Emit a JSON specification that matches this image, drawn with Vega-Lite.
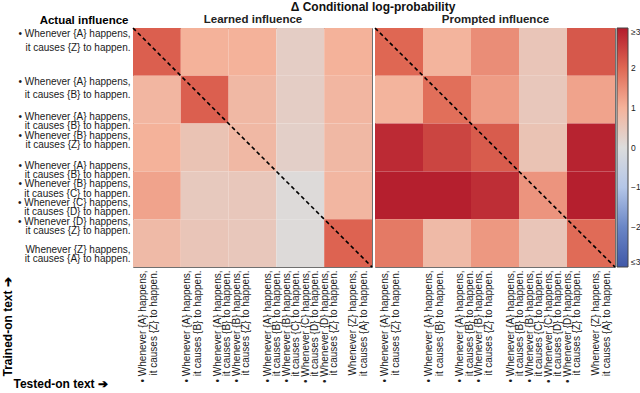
{
  "$schema": "https://vega.github.io/schema/vega-lite/v6.json",
  "padding": {"left": 0, "top": 0, "right": 0, "bottom": 0},
  "background": "white",
  "bounds": "flush",
  "title": {"text": "Δ Conditional log-probability", "fontSize": 12, "fontWeight": "bold", "anchor": "middle", "offset": -1, "color": "#111", "frame": "group", "dx": 240},
  "datasets": {
    "labels": [
      {"k": 1, "t": "• Whenever {A} happens,|it causes {Z} to happen."},
      {"k": 2, "t": "• Whenever {A} happens,|it causes {B} to happen."},
      {"k": 3, "t": "• Whenever {A} happens,|it causes {B} to happen.|• Whenever {B} happens,|it causes {Z} to happen."},
      {"k": 4, "t": "• Whenever {A} happens,|it causes {B} to happen.|• Whenever {B} happens,|it causes {C} to happen.|• Whenever {C} happens,|it causes {D} to happen.|• Whenever {D} happens,|it causes {Z} to happen."},
      {"k": 5, "t": "Whenever {Z} happens,|it causes {A} to happen."}
    ],
    "cells": [
      {"panel": "Learned", "r": 1, "c": 1, "v": 2.1}, {"panel": "Learned", "r": 1, "c": 2, "v": 1.0}, {"panel": "Learned", "r": 1, "c": 3, "v": 1.0}, {"panel": "Learned", "r": 1, "c": 4, "v": 0.35}, {"panel": "Learned", "r": 1, "c": 5, "v": 1.0},
      {"panel": "Learned", "r": 2, "c": 1, "v": 0.9}, {"panel": "Learned", "r": 2, "c": 2, "v": 2.1}, {"panel": "Learned", "r": 2, "c": 3, "v": 0.85}, {"panel": "Learned", "r": 2, "c": 4, "v": 0.35}, {"panel": "Learned", "r": 2, "c": 5, "v": 0.9},
      {"panel": "Learned", "r": 3, "c": 1, "v": 1.0}, {"panel": "Learned", "r": 3, "c": 2, "v": 0.6}, {"panel": "Learned", "r": 3, "c": 3, "v": 0.85}, {"panel": "Learned", "r": 3, "c": 4, "v": 0.3}, {"panel": "Learned", "r": 3, "c": 5, "v": 0.85},
      {"panel": "Learned", "r": 4, "c": 1, "v": 1.2}, {"panel": "Learned", "r": 4, "c": 2, "v": 0.45}, {"panel": "Learned", "r": 4, "c": 3, "v": 0.5}, {"panel": "Learned", "r": 4, "c": 4, "v": 0.05}, {"panel": "Learned", "r": 4, "c": 5, "v": 0.9},
      {"panel": "Learned", "r": 5, "c": 1, "v": 0.8}, {"panel": "Learned", "r": 5, "c": 2, "v": 0.55}, {"panel": "Learned", "r": 5, "c": 3, "v": 0.5}, {"panel": "Learned", "r": 5, "c": 4, "v": 0.05}, {"panel": "Learned", "r": 5, "c": 5, "v": 2.05},
      {"panel": "Prompted", "r": 1, "c": 1, "v": 2.0}, {"panel": "Prompted", "r": 1, "c": 2, "v": 0.95}, {"panel": "Prompted", "r": 1, "c": 3, "v": 1.5}, {"panel": "Prompted", "r": 1, "c": 4, "v": 0.55}, {"panel": "Prompted", "r": 1, "c": 5, "v": 2.2},
      {"panel": "Prompted", "r": 2, "c": 1, "v": 0.95}, {"panel": "Prompted", "r": 2, "c": 2, "v": 1.9}, {"panel": "Prompted", "r": 2, "c": 3, "v": 1.3}, {"panel": "Prompted", "r": 2, "c": 4, "v": 0.5}, {"panel": "Prompted", "r": 2, "c": 5, "v": 1.2},
      {"panel": "Prompted", "r": 3, "c": 1, "v": 2.8}, {"panel": "Prompted", "r": 3, "c": 2, "v": 2.45}, {"panel": "Prompted", "r": 3, "c": 3, "v": 2.15}, {"panel": "Prompted", "r": 3, "c": 4, "v": 0.6}, {"panel": "Prompted", "r": 3, "c": 5, "v": 2.9},
      {"panel": "Prompted", "r": 4, "c": 1, "v": 2.95}, {"panel": "Prompted", "r": 4, "c": 2, "v": 2.95}, {"panel": "Prompted", "r": 4, "c": 3, "v": 2.75}, {"panel": "Prompted", "r": 4, "c": 4, "v": 1.4}, {"panel": "Prompted", "r": 4, "c": 5, "v": 2.95},
      {"panel": "Prompted", "r": 5, "c": 1, "v": 1.75}, {"panel": "Prompted", "r": 5, "c": 2, "v": 0.8}, {"panel": "Prompted", "r": 5, "c": 3, "v": 1.35}, {"panel": "Prompted", "r": 5, "c": 4, "v": 0.55}, {"panel": "Prompted", "r": 5, "c": 5, "v": 1.95}
    ],
    "diag": [{"t": 0}, {"t": 1}]
  },
  "hconcat": [
    {
      "width": 239,
      "height": 239,
      "layer": [
        {
          "data": {"name": "cells"},
          "transform": [
            {"filter": "datum.panel == 'Learned'"},
            {"lookup": "r", "from": {"data": {"name": "labels"}, "key": "k", "fields": ["t"]}, "as": ["trained"]},
            {"lookup": "c", "from": {"data": {"name": "labels"}, "key": "k", "fields": ["t"]}, "as": ["tested"]}
          ],
          "mark": {"type": "rect"},
          "encoding": {
            "x": {"field": "tested", "type": "nominal", "sort": {"field": "c", "op": "min"},
              "axis": {"orient": "bottom", "labelAngle": -90, "labelAlign": "right", "labelBaseline": "middle", "labelLineHeight": 11,
                "labelExpr": "(datum.index < 0.3 || datum.index > 0.9) ? split(datum.value, '|') : ''",
                "labelOffset": {"condition": [{"test": "datum.index < 0.1", "value": -14}, {"test": "datum.index < 0.3", "value": -18}], "value": 5},
                "title": "Tested-on text ➔", "titleAngle": 0, "titleAlign": "left", "titleBaseline": "middle", "titleX": -120, "titleY": 116, "titleFontSize": 12}},
            "y": {"field": "trained", "type": "nominal", "sort": {"field": "r", "op": "min"},
              "axis": {"orient": "left", "labelAlign": "right", "labelBaseline": "middle", "labelLineHeight": 13.3,
                "labelExpr": "datum.index < 0.3 ? split(datum.value, '|') : ''",
                "labelOffset": -17.5,
                "title": "Actual influence", "titleAngle": 0, "titleAlign": "right", "titleBaseline": "middle", "titleX": -5, "titleY": -8, "titleFontSize": 11.5}},
            "color": {"field": "v", "type": "quantitative",
              "scale": {"type": "linear", "domain": [-3, -2, -1, 0, 1, 2, 3], "range": ["#4058a8", "#6a86c6", "#b4c6e7", "#dcdcdc", "#f4b29a", "#df6753", "#b31b2c"], "clamp": true, "interpolate": "rgb"},
              "legend": null}
          }
        },
        {
          "data": {"name": "cells"},
          "transform": [
            {"filter": "datum.panel == 'Learned'"},
            {"lookup": "r", "from": {"data": {"name": "labels"}, "key": "k", "fields": ["t"]}, "as": ["trained"]},
            {"lookup": "c", "from": {"data": {"name": "labels"}, "key": "k", "fields": ["t"]}, "as": ["tested"]}
          ],
          "mark": {"type": "rect", "opacity": 0},
          "encoding": {
            "x": {"field": "tested", "type": "nominal", "sort": {"field": "c", "op": "min"},
              "axis": {"orient": "bottom", "labelAngle": -90, "labelAlign": "right", "labelBaseline": "middle", "labelLineHeight": 9.5,
                "labelExpr": "(datum.index > 0.3 && datum.index < 0.9) ? split(datum.value, '|') : ''",
                "labelOffset": {"condition": {"test": "datum.index < 0.6", "value": -35}, "value": -32.5},
                "title": null}},
            "y": {"field": "trained", "type": "nominal", "sort": {"field": "r", "op": "min"},
              "axis": {"orient": "left", "labelAlign": "right", "labelBaseline": "middle", "labelLineHeight": 9.3,
                "labelExpr": "datum.index > 0.3 ? split(datum.value, '|') : ''",
                "labelOffset": {"condition": [{"test": "datum.index < 0.6", "value": -30.5}, {"test": "datum.index < 0.9", "value": -29.5}], "value": 7},
                "title": "Trained-on text ➔", "titleAngle": 270, "titleAlign": "left", "titleBaseline": "middle", "titleX": -126, "titleY": 348, "titleFontSize": 12}}
          }
        },
        {
          "data": {"name": "diag"},
          "mark": {"type": "line", "color": "black", "strokeWidth": 1.6, "strokeDash": [4, 3]},
          "encoding": {
            "x": {"field": "t", "type": "quantitative", "scale": {"domain": [0, 1], "nice": false, "zero": false},
              "axis": {"orient": "top", "labels": false, "ticks": false, "domain": false, "grid": false, "title": "Learned influence", "titlePadding": 4, "titleFontSize": 11.5, "titleColor": "#222"}},
            "y": {"field": "t", "type": "quantitative", "scale": {"domain": [0, 1], "nice": false, "zero": false, "reverse": true}, "axis": null}
          }
        }
      ],
      "resolve": {"scale": {"x": "independent", "y": "independent"}}
    },
    {
      "width": 240,
      "height": 239,
      "layer": [
        {
          "data": {"name": "cells"},
          "transform": [
            {"filter": "datum.panel == 'Prompted'"},
            {"lookup": "r", "from": {"data": {"name": "labels"}, "key": "k", "fields": ["t"]}, "as": ["trained"]},
            {"lookup": "c", "from": {"data": {"name": "labels"}, "key": "k", "fields": ["t"]}, "as": ["tested"]}
          ],
          "mark": {"type": "rect"},
          "encoding": {
            "x": {"field": "tested", "type": "nominal", "sort": {"field": "c", "op": "min"},
              "axis": {"orient": "bottom", "labelAngle": -90, "labelAlign": "right", "labelBaseline": "middle", "labelLineHeight": 11,
                "labelExpr": "(datum.index < 0.3 || datum.index > 0.9) ? split(datum.value, '|') : ''",
                "labelOffset": {"condition": [{"test": "datum.index < 0.1", "value": -14}, {"test": "datum.index < 0.3", "value": -18}], "value": 5},
                "title": null}},
            "y": {"field": "trained", "type": "nominal", "sort": {"field": "r", "op": "min"}, "axis": null},
            "color": {"field": "v", "type": "quantitative",
              "scale": {"type": "linear", "domain": [-3, -2, -1, 0, 1, 2, 3], "range": ["#4058a8", "#6a86c6", "#b4c6e7", "#dcdcdc", "#f4b29a", "#df6753", "#b31b2c"], "clamp": true, "interpolate": "rgb"},
              "legend": {"title": null, "orient": "right", "offset": 2, "padding": 0, "gradientLength": 239, "gradientThickness": 11,
                "gradientStrokeColor": "#444", "gradientStrokeWidth": 1, "values": [-3, -2, -1, 0, 1, 2, 3],
                "labelExpr": "datum.value >= 3 ? '≥3' : (datum.value <= -3 ? '≤3' : datum.label)",
                "labelFontSize": 8.5, "labelFont": "Liberation Sans", "labelColor": "#222", "labelOffset": 3, "labelOverlap": false}}
          }
        },
        {
          "data": {"name": "cells"},
          "transform": [
            {"filter": "datum.panel == 'Prompted'"},
            {"lookup": "r", "from": {"data": {"name": "labels"}, "key": "k", "fields": ["t"]}, "as": ["trained"]},
            {"lookup": "c", "from": {"data": {"name": "labels"}, "key": "k", "fields": ["t"]}, "as": ["tested"]}
          ],
          "mark": {"type": "rect", "opacity": 0},
          "encoding": {
            "x": {"field": "tested", "type": "nominal", "sort": {"field": "c", "op": "min"},
              "axis": {"orient": "bottom", "labelAngle": -90, "labelAlign": "right", "labelBaseline": "middle", "labelLineHeight": 9.5,
                "labelExpr": "(datum.index > 0.3 && datum.index < 0.9) ? split(datum.value, '|') : ''",
                "labelOffset": {"condition": {"test": "datum.index < 0.6", "value": -35}, "value": -32.5},
                "title": null}},
            "y": {"field": "trained", "type": "nominal", "sort": {"field": "r", "op": "min"}, "axis": null}
          }
        },
        {
          "data": {"name": "diag"},
          "mark": {"type": "line", "color": "black", "strokeWidth": 1.6, "strokeDash": [4, 3]},
          "encoding": {
            "x": {"field": "t", "type": "quantitative", "scale": {"domain": [0, 1], "nice": false, "zero": false},
              "axis": {"orient": "top", "labels": false, "ticks": false, "domain": false, "grid": false, "title": "Prompted influence", "titlePadding": 4, "titleFontSize": 11.5, "titleColor": "#222"}},
            "y": {"field": "t", "type": "quantitative", "scale": {"domain": [0, 1], "nice": false, "zero": false, "reverse": true}, "axis": null}
          }
        }
      ],
      "resolve": {"scale": {"x": "independent", "y": "independent"}}
    }
  ],
  "spacing": 3,
  "resolve": {"scale": {"color": "independent"}},
  "config": {
    "font": "Liberation Sans",
    "view": {"stroke": "#707070", "strokeWidth": 1},
    "axis": {"domain": false, "ticks": false, "grid": false, "labelFont": "Liberation Sans Narrow, Liberation Sans, sans-serif", "labelFontSize": 10, "labelColor": "#1a1a1a", "labelPadding": 3, "labelLimit": 300, "labelOverlap": false, "titleFont": "Liberation Sans", "titleFontWeight": "bold", "titleColor": "#000"},
    "legend": {"labelLimit": 40}
  }
}
